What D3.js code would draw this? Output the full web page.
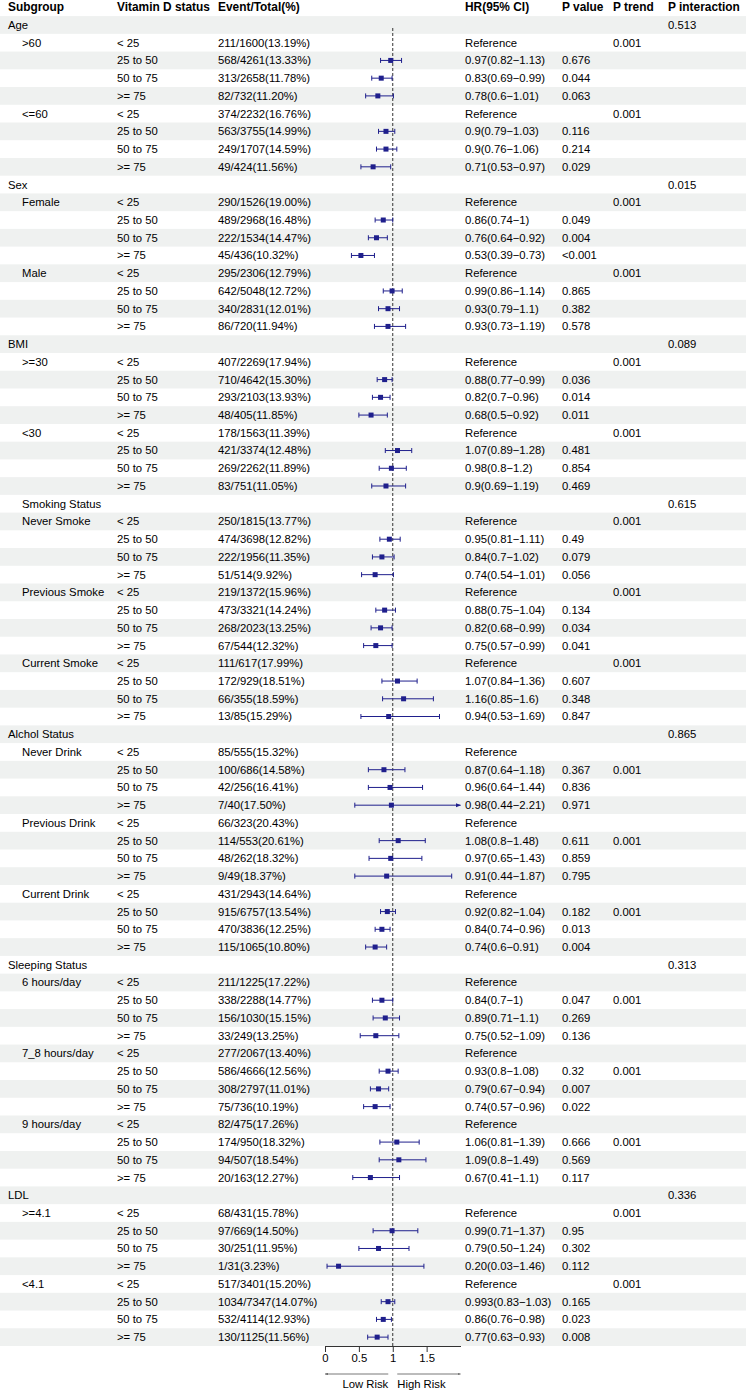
<!DOCTYPE html>
<html>
<head>
<meta charset="utf-8">
<script src="https://cdn.jsdelivr.net/npm/d3@7"></script>
<style>
  html, body { margin: 0; padding: 0; background: #fff; }
  svg text { font-family: "Liberation Sans", Arial, sans-serif; fill: #000; }
</style>
</head>
<body>
<svg id="chart" width="746" height="1392"></svg>
<script>
// ---------------- DATA ----------------
const headers = ["Subgroup", "Vitamin D status", "Event/Total(%)", "", "HR(95% CI)", "P value", "P trend", "P interaction"];

// Leading spaces mark an indented label (as in the source table)
const subgroups = [
  "Age", "    >60", "", "", "", "    <=60", "", "", "",
  "Sex", "    Female", "", "", "", "    Male", "", "", "",
  "BMI", "    >=30", "", "", "", "    <30", "", "", "",
  "    Smoking Status", "    Never Smoke", "", "", "", "    Previous Smoke", "", "", "", "    Current Smoke", "", "", "",
  "Alchol Status", "    Never Drink", "", "", "", "    Previous Drink", "", "", "", "    Current Drink", "", "", "",
  "Sleeping Status", "    6 hours/day", "", "", "", "    7_8 hours/day", "", "", "", "    9 hours/day", "", "", "",
  "LDL", "    >=4.1", "", "", "", "    <4.1", "", "", ""
];

const vitD4 = ["< 25", "25 to 50", "50 to 75", ">= 75"];

const eventTotal = [
  "", "211/1600(13.19%)", "568/4261(13.33%)", "313/2658(11.78%)", "82/732(11.20%)",
  "374/2232(16.76%)", "563/3755(14.99%)", "249/1707(14.59%)", "49/424(11.56%)",
  "", "290/1526(19.00%)", "489/2968(16.48%)", "222/1534(14.47%)", "45/436(10.32%)",
  "295/2306(12.79%)", "642/5048(12.72%)", "340/2831(12.01%)", "86/720(11.94%)",
  "", "407/2269(17.94%)", "710/4642(15.30%)", "293/2103(13.93%)", "48/405(11.85%)",
  "178/1563(11.39%)", "421/3374(12.48%)", "269/2262(11.89%)", "83/751(11.05%)",
  "", "250/1815(13.77%)", "474/3698(12.82%)", "222/1956(11.35%)", "51/514(9.92%)",
  "219/1372(15.96%)", "473/3321(14.24%)", "268/2023(13.25%)", "67/544(12.32%)",
  "111/617(17.99%)", "172/929(18.51%)", "66/355(18.59%)", "13/85(15.29%)",
  "", "85/555(15.32%)", "100/686(14.58%)", "42/256(16.41%)", "7/40(17.50%)",
  "66/323(20.43%)", "114/553(20.61%)", "48/262(18.32%)", "9/49(18.37%)",
  "431/2943(14.64%)", "915/6757(13.54%)", "470/3836(12.25%)", "115/1065(10.80%)",
  "", "211/1225(17.22%)", "338/2288(14.77%)", "156/1030(15.15%)", "33/249(13.25%)",
  "277/2067(13.40%)", "586/4666(12.56%)", "308/2797(11.01%)", "75/736(10.19%)",
  "82/475(17.26%)", "174/950(18.32%)", "94/507(18.54%)", "20/163(12.27%)",
  "", "68/431(15.78%)", "97/669(14.50%)", "30/251(11.95%)", "1/31(3.23%)",
  "517/3401(15.20%)", "1034/7347(14.07%)", "532/4114(12.93%)", "130/1125(11.56%)"
];

const hrText = [
  "", "Reference", "0.97(0.82−1.13)", "0.83(0.69−0.99)", "0.78(0.6−1.01)",
  "Reference", "0.9(0.79−1.03)", "0.9(0.76−1.06)", "0.71(0.53−0.97)",
  "", "Reference", "0.86(0.74−1)", "0.76(0.64−0.92)", "0.53(0.39−0.73)",
  "Reference", "0.99(0.86−1.14)", "0.93(0.79−1.1)", "0.93(0.73−1.19)",
  "", "Reference", "0.88(0.77−0.99)", "0.82(0.7−0.96)", "0.68(0.5−0.92)",
  "Reference", "1.07(0.89−1.28)", "0.98(0.8−1.2)", "0.9(0.69−1.19)",
  "", "Reference", "0.95(0.81−1.11)", "0.84(0.7−1.02)", "0.74(0.54−1.01)",
  "Reference", "0.88(0.75−1.04)", "0.82(0.68−0.99)", "0.75(0.57−0.99)",
  "Reference", "1.07(0.84−1.36)", "1.16(0.85−1.6)", "0.94(0.53−1.69)",
  "", "Reference", "0.87(0.64−1.18)", "0.96(0.64−1.44)", "0.98(0.44−2.21)",
  "Reference", "1.08(0.8−1.48)", "0.97(0.65−1.43)", "0.91(0.44−1.87)",
  "Reference", "0.92(0.82−1.04)", "0.84(0.74−0.96)", "0.74(0.6−0.91)",
  "", "Reference", "0.84(0.7−1)", "0.89(0.71−1.1)", "0.75(0.52−1.09)",
  "Reference", "0.93(0.8−1.08)", "0.79(0.67−0.94)", "0.74(0.57−0.96)",
  "Reference", "1.06(0.81−1.39)", "1.09(0.8−1.49)", "0.67(0.41−1.1)",
  "", "Reference", "0.99(0.71−1.37)", "0.79(0.50−1.24)", "0.20(0.03−1.46)",
  "Reference", "0.993(0.83−1.03)", "0.86(0.76−0.98)", "0.77(0.63−0.93)"
];

// Plotted estimates (null = no marker)
const est = [
  null, null, 0.97, 0.83, 0.78, null, 0.9, 0.9, 0.71,
  null, null, 0.86, 0.76, 0.53, null, 0.99, 0.93, 0.93,
  null, null, 0.88, 0.82, 0.68, null, 1.07, 0.98, 0.9,
  null, null, 0.95, 0.84, 0.74, null, 0.88, 0.82, 0.75, null, 1.07, 1.16, 0.94,
  null, null, 0.87, 0.96, 0.98, null, 1.08, 0.97, 0.91, null, 0.92, 0.84, 0.74,
  null, null, 0.84, 0.89, 0.75, null, 0.93, 0.79, 0.74, null, 1.06, 1.09, 0.67,
  null, null, 0.99, 0.79, 0.20, null, 0.93, 0.86, 0.77
];
const lower = [
  null, null, 0.82, 0.69, 0.6, null, 0.79, 0.76, 0.53,
  null, null, 0.74, 0.64, 0.39, null, 0.86, 0.79, 0.73,
  null, null, 0.77, 0.7, 0.5, null, 0.89, 0.8, 0.69,
  null, null, 0.81, 0.7, 0.54, null, 0.75, 0.68, 0.57, null, 0.84, 0.85, 0.53,
  null, null, 0.64, 0.64, 0.44, null, 0.8, 0.65, 0.44, null, 0.82, 0.74, 0.6,
  null, null, 0.7, 0.71, 0.52, null, 0.8, 0.67, 0.57, null, 0.81, 0.8, 0.41,
  null, null, 0.71, 0.50, 0.03, null, 0.83, 0.76, 0.63
];
const upper = [
  null, null, 1.13, 0.99, 1.01, null, 1.03, 1.06, 0.97,
  null, null, 1.0, 0.92, 0.73, null, 1.14, 1.1, 1.19,
  null, null, 0.99, 0.96, 0.92, null, 1.28, 1.2, 1.19,
  null, null, 1.11, 1.02, 1.01, null, 1.04, 0.99, 0.99, null, 1.36, 1.6, 1.69,
  null, null, 1.18, 1.44, 2.21, null, 1.48, 1.43, 1.87, null, 1.04, 0.96, 0.91,
  null, null, 1.0, 1.1, 1.09, null, 1.08, 0.94, 0.96, null, 1.39, 1.49, 1.1,
  null, null, 1.37, 1.24, 1.46, null, 1.03, 0.98, 0.93
];

const pValue = [
  "", "", "0.676", "0.044", "0.063", "", "0.116", "0.214", "0.029",
  "", "", "0.049", "0.004", "<0.001", "", "0.865", "0.382", "0.578",
  "", "", "0.036", "0.014", "0.011", "", "0.481", "0.854", "0.469",
  "", "", "0.49", "0.079", "0.056", "", "0.134", "0.034", "0.041", "", "0.607", "0.348", "0.847",
  "", "", "0.367", "0.836", "0.971", "", "0.611", "0.859", "0.795", "", "0.182", "0.013", "0.004",
  "", "", "0.047", "0.269", "0.136", "", "0.32", "0.007", "0.022", "", "0.666", "0.569", "0.117",
  "", "", "0.95", "0.302", "0.112", "", "0.165", "0.023", "0.008"
];

const pTrend = [
  "", "0.001", "", "", "", "0.001", "", "", "",
  "", "0.001", "", "", "", "0.001", "", "", "",
  "", "0.001", "", "", "", "0.001", "", "", "",
  "", "0.001", "", "", "", "0.001", "", "", "", "0.001", "", "", "",
  "", "", "0.001", "", "", "", "0.001", "", "", "", "0.001", "", "",
  "", "", "0.001", "", "", "", "0.001", "", "", "", "0.001", "", "",
  "", "0.001", "", "", "", "0.001", "", "", ""
];

const pInteraction = { 0: "0.513", 9: "0.015", 18: "0.089", 27: "0.615", 40: "0.865", 53: "0.313", 66: "0.336" };

const xTicks = [0, 0.5, 1, 1.5];
const xDomain = [0, 2];

// ---------------- LAYOUT ----------------
const W = 746;
const nRows = subgroups.length;
const rowTop = 16.1, rowBottom = 1346;
const colX = [8, 117, 218, null, 465, 562, 613, 668];
const indentX = 22;
const fontSize = 11.3, headFont = 11.9;
const navy = "#1f1f8c";

const svg = d3.select("#chart");

const y = d3.scaleBand().domain(d3.range(nRows)).range([rowTop, rowBottom]).padding(0);
const x = d3.scaleLinear().domain(xDomain).range([325, 460.5]);

// vitamin D column derived per row
const vitD = subgroups.map((s, i) => (eventTotal[i] === "" ? "" : null));
let k = 0;
for (let i = 0; i < nRows; i++) {
  if (eventTotal[i] !== "") { vitD[i] = vitD4[k % 4]; k++; }
}

// row backgrounds
svg.append("g").selectAll("rect")
  .data(d3.range(nRows).filter(i => i % 2 === 0))
  .join("rect")
  .attr("x", 0).attr("width", W)
  .attr("y", i => y(i)).attr("height", y.bandwidth())
  .attr("fill", "#eff1f0");

// header
const headY = rowTop - y.bandwidth() / 2;
svg.append("g").selectAll("text")
  .data(headers.map((h, j) => ({ h, j })).filter(d => d.h !== ""))
  .join("text")
  .attr("x", d => colX[d.j]).attr("y", headY)
  .attr("dy", "0.35em")
  .style("font-size", headFont + "px").style("font-weight", "bold")
  .text(d => d.h);

// body text
const cy = i => y(i) + y.bandwidth() / 2;
const body = svg.append("g").style("font-size", fontSize + "px");
function col(values, xpos) {
  body.append("g").selectAll("text")
    .data(values.map((v, i) => ({ v, i })).filter(d => d.v))
    .join("text")
    .attr("x", typeof xpos === "function" ? d => xpos(d) : xpos)
    .attr("y", d => cy(d.i))
    .attr("dy", "0.35em")
    .text(d => d.v.trim());
}
col(subgroups, d => (d.v.startsWith(" ") ? indentX : colX[0]));
col(vitD, colX[1]);
col(eventTotal, colX[2]);
col(hrText, colX[4]);
col(pValue, colX[5]);
col(pTrend, colX[6]);
col(d3.range(nRows).map(i => pInteraction[i] || ""), colX[7]);

// reference line
svg.append("line")
  .attr("x1", x(1)).attr("x2", x(1))
  .attr("y1", 28).attr("y2", rowBottom)
  .attr("stroke", "#333").attr("stroke-width", 1).attr("stroke-dasharray", "3,2");

// arrow markers
const defs = svg.append("defs");
defs.append("marker").attr("id", "ciArrow")
  .attr("viewBox", "0 0 10 10").attr("refX", 9).attr("refY", 5)
  .attr("markerWidth", 5).attr("markerHeight", 5).attr("orient", "auto")
  .append("path").attr("d", "M0,1L10,5L0,9Z").attr("fill", navy);
defs.append("marker").attr("id", "axArrow")
  .attr("viewBox", "0 0 10 10").attr("refX", 9).attr("refY", 5)
  .attr("markerWidth", 4).attr("markerHeight", 4).attr("orient", "auto")
  .append("path").attr("d", "M0,2L10,5L0,8Z").attr("fill", "#555");

// CI + markers
const ciRows = d3.range(nRows).filter(i => est[i] != null);
const cig = svg.append("g");
const capH = 2.5;
ciRows.forEach(i => {
  const yc = cy(i);
  const lo = Math.max(lower[i], xDomain[0]);
  const hiOver = upper[i] > xDomain[1];
  const hi = Math.min(upper[i], xDomain[1]);
  cig.append("line")
    .attr("x1", x(lo)).attr("x2", x(hi)).attr("y1", yc).attr("y2", yc)
    .attr("stroke", navy).attr("stroke-width", 1)
    .attr("marker-end", hiOver ? "url(#ciArrow)" : null);
  cig.append("line").attr("x1", x(lo)).attr("x2", x(lo)).attr("y1", yc - capH).attr("y2", yc + capH)
    .attr("stroke", navy).attr("stroke-width", 1);
  if (!hiOver) {
    cig.append("line").attr("x1", x(hi)).attr("x2", x(hi)).attr("y1", yc - capH).attr("y2", yc + capH)
      .attr("stroke", navy).attr("stroke-width", 1);
  }
  cig.append("rect")
    .attr("x", x(est[i]) - 2.5).attr("y", yc - 2.5)
    .attr("width", 5).attr("height", 5).attr("fill", navy);
});

// axis
const axis = svg.append("g")
  .attr("transform", `translate(0,${rowBottom})`)
  .call(d3.axisBottom(x).tickValues(xTicks).tickSize(6).tickSizeOuter(0).tickFormat(d3.format("")));
axis.select(".domain").attr("stroke", "#333");
axis.selectAll(".tick line").attr("stroke", "#333");
axis.selectAll(".tick text")
  .style("font-size", fontSize + "px")
  .style("font-family", "Liberation Sans, Arial, sans-serif")
  .attr("fill", "#000").attr("y", 8);

// risk arrows
const arrY = 1374;
svg.append("line").attr("x1", x(1) - 4.5).attr("x2", x(0)).attr("y1", arrY).attr("y2", arrY)
  .attr("stroke", "#555").attr("stroke-width", 0.8).attr("marker-end", "url(#axArrow)");
svg.append("line").attr("x1", x(1) + 4.5).attr("x2", x(2)).attr("y1", arrY).attr("y2", arrY)
  .attr("stroke", "#555").attr("stroke-width", 0.8).attr("marker-end", "url(#axArrow)");
svg.append("text").attr("x", x(1) - 4.5).attr("y", 1384).attr("dy", "0.35em")
  .attr("text-anchor", "end").style("font-size", fontSize + "px").text("Low Risk");
svg.append("text").attr("x", x(1) + 4.5).attr("y", 1384).attr("dy", "0.35em")
  .style("font-size", fontSize + "px").text("High Risk");
</script>
</body>
</html>
